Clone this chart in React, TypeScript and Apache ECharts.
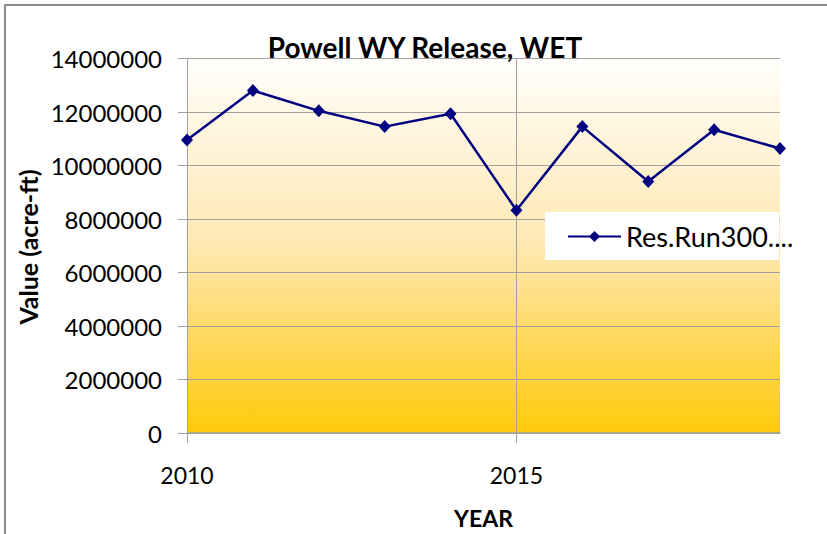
import React, { useEffect, useRef } from "react";
import * as echarts from "echarts";

const years = [2010, 2011, 2012, 2013, 2014, 2015, 2016, 2017, 2018, 2019];
const releases = [10960000, 12810000, 12050000, 11460000, 11940000, 8330000, 11460000, 9410000, 11340000, 10640000];
const xTickValues = [2010, 2015];
const seriesName = "Res.Run300....";
const titleText = "Powell WY Release, WET";
const yAxisTitle = "Value (acre-ft)";
const xAxisTitle = "YEAR";

const FONT = "Lato, 'Open Sans', sans-serif";

export default function App() {
  const ref = useRef<HTMLDivElement>(null);
  useEffect(() => {
    if (!ref.current) return;
    const chart = echarts.init(ref.current, undefined, { renderer: "svg" });
    const gray = "#a0a0a0";
    chart.setOption({
      animation: false,
      backgroundColor: "#ffffff",
      title: {
        text: titleText,
        left: 420,
        top: 28,
        textAlign: "center",
        textStyle: { fontFamily: FONT, fontSize: 28, fontWeight: "bold", color: "#000000" },
      },
      grid: {
        left: 187,
        top: 58.7,
        right: 47,
        bottom: 100.3,
        show: true,
        borderWidth: 0,
        backgroundColor: new echarts.graphic.LinearGradient(0, 0, 0, 1, [
          { offset: 0, color: "#fffefb" },
          { offset: 0.5, color: "#ffe8b2" },
          { offset: 1, color: "#ffca0a" },
        ]),
      },
      legend: {
        left: 562,
        top: 218,
        itemWidth: 53,
        itemHeight: 14,
        itemGap: 0,
        textStyle: { fontFamily: FONT, fontSize: 27, color: "#000000", padding: [0, 0, 0, 0] },
        data: [seriesName],
      },
      xAxis: {
        type: "value",
        min: 2010,
        max: 2019,
        interval: 5,
        name: xAxisTitle,
        nameLocation: "middle",
        nameGap: 73,
        nameTextStyle: { fontFamily: FONT, fontSize: 23, fontWeight: "bold", color: "#000000" },
        axisLine: { show: true, lineStyle: { color: gray, width: 1.5 } },
        axisTick: { show: true, length: 10, lineStyle: { color: gray }, customValues: xTickValues },
        axisLabel: {
          customValues: xTickValues,
          margin: 30,
          fontFamily: FONT,
          fontSize: 23,
          color: "#000000",
          formatter: (v: number) => (v % 5 === 0 ? String(v) : ""),
        },
        splitLine: { show: false },
      },
      yAxis: {
        type: "value",
        min: 0,
        max: 14000000,
        interval: 2000000,
        axisLine: { show: true, lineStyle: { color: gray } },
        axisTick: { show: true, length: 9, lineStyle: { color: gray } },
        axisLabel: {
          margin: 25,
          fontFamily: FONT,
          fontSize: 24,
          color: "#000000",
          formatter: (v: number) => String(v),
        },
        splitLine: { show: true, lineStyle: { color: gray, width: 1 } },
      },
      graphic: [
        { type: "line", shape: { x1: 4, y1: 5, x2: 827, y2: 5 }, style: { stroke: "#8c8c8c", lineWidth: 2 }, z: 10 },
        { type: "line", shape: { x1: 5, y1: 4, x2: 5, y2: 534 }, style: { stroke: "#8c8c8c", lineWidth: 2 }, z: 10 },
        { type: "rect", shape: { x: 545, y: 212, width: 234, height: 48 }, style: { fill: "#ffffff" }, z: 3 },
        {
          type: "text",
          x: 28,
          y: 247,
          rotation: Math.PI / 2,
          style: {
            text: yAxisTitle,
            fontFamily: FONT,
            fontSize: 25,
            fontWeight: "bold",
            fill: "#000000",
            align: "center",
            verticalAlign: "middle",
          },
          z: 5,
        },
      ],
      series: [
        {
          name: seriesName,
          type: "line",
          data: years.map((y, i) => [y, releases[i]]),
          symbol: "diamond",
          symbolSize: [12, 13],
          lineStyle: { color: "#000080", width: 2.5 },
          itemStyle: { color: "#000080" },
          z: 2,
          markLine: {
            silent: true,
            symbol: "none",
            label: { show: false },
            lineStyle: { color: gray, type: "solid", width: 1 },
            data: [{ xAxis: xTickValues[1] }],
            z: 1,
          },
        },
      ],
    });
    return () => chart.dispose();
  }, []);
  return <div ref={ref} style={{ position: "fixed", left: 0, top: 0, width: 827, height: 534 }} />;
}
